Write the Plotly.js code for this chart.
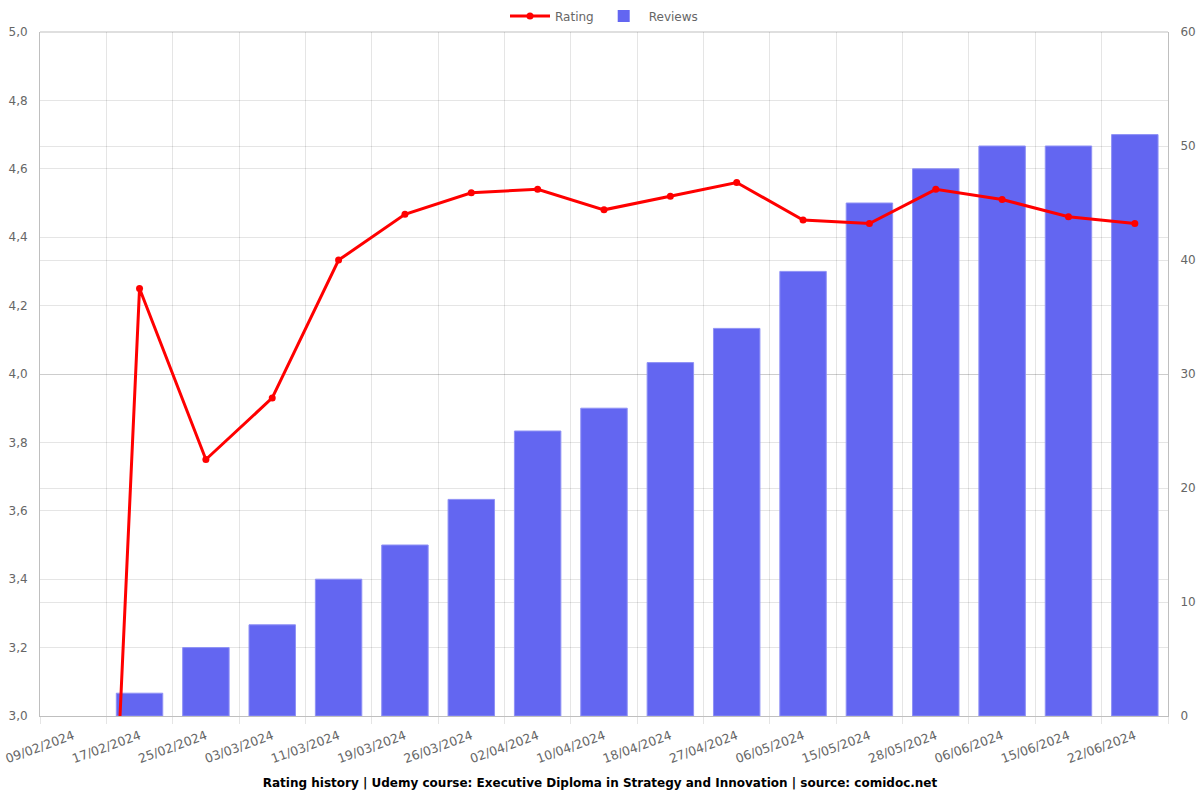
<!DOCTYPE html>
<html>
<head>
<meta charset="utf-8">
<script src="https://cdn.plot.ly/plotly-3.0.1.min.js"></script>
<style>html,body{margin:0;padding:0;background:#fff;}#chart{width:1200px;height:800px;}</style>
</head>
<body>
<div id="chart"></div>
<script>
const dates = ["09/02/2024","17/02/2024","25/02/2024","03/03/2024","11/03/2024","19/03/2024","26/03/2024","02/04/2024","10/04/2024","18/04/2024","27/04/2024","06/05/2024","15/05/2024","28/05/2024","06/06/2024","15/06/2024","22/06/2024"];
const rating = [0, 4.25, 3.75, 3.93, 4.333, 4.467, 4.53, 4.54, 4.48, 4.52, 4.56, 4.45, 4.44, 4.54, 4.51, 4.46, 4.44];
const reviews = [0, 2, 6, 8, 12, 15, 19, 25, 27, 31, 34, 39, 45, 48, 50, 50, 51];
const titleText = "Rating history | Udemy course: Executive Diploma in Strategy and Innovation | source: comidoc.net";

const font = "DejaVu Sans, sans-serif";
const grid = "rgba(0,0,0,0.1)";
const axisLine = "rgba(0,0,0,0.25)";

const traces = [
  {
    type: "scatter", mode: "lines+markers", name: "Rating",
    x: dates, y: rating, yaxis: "y2",
    line: {color: "#ff0000", width: 3},
    marker: {color: "#ff0000", size: 7},
    cliponaxis: true
  },
  {
    type: "bar", name: "Reviews",
    x: dates, y: reviews, yaxis: "y",
    width: 0.7,
    marker: {color: "#6366f1", line: {color: "#8f91f5", width: reviews.map(v => v > 0 ? 1 : 0)}}
  }
];

const layout = {
  width: 1200, height: 800,
  margin: {l: 40, r: 32, t: 32, b: 84},
  paper_bgcolor: "#fff", plot_bgcolor: "#fff",
  separators: ",.",
  font: {family: font, size: 12, color: "#666"},
  showlegend: true,
  legend: {orientation: "h", x: 0.5, xanchor: "center", yref: "container", y: 0.98, yanchor: "middle",
           itemwidth: 40,
           font: {family: font, size: 12, color: "#666"}, traceorder: "normal"},
  title: {text: "<b>" + titleText + "</b>", x: 0.5, xanchor: "center",
          yref: "container", y: 0.021, yanchor: "middle",
          font: {family: font, size: 12, color: "#000"}},
  xaxis: {
    type: "category", tickson: "boundaries", tickangle: -20,
    range: [-0.5, dates.length - 0.5], autorange: false,
    showgrid: true, gridcolor: grid, gridwidth: 1,
    showline: true, linecolor: axisLine, linewidth: 1,
    ticks: "outside", ticklen: 7, tickcolor: grid,
    ticklabelstandoff: 7,
    tickfont: {family: font, size: 12.5, color: "#666"},
    zeroline: false
  },
  yaxis: {
    range: [0, 60], dtick: 10, side: "right",
    showgrid: true, gridcolor: grid,
    showline: true, linecolor: axisLine,
    ticks: "", ticklabelstandoff: 9,
    tickfont: {family: font, size: 12, color: "#666"},
    zeroline: false
  },
  yaxis2: {
    range: [3, 5], dtick: 0.2, tickformat: ".1f", overlaying: "y", side: "left",
    showgrid: true, gridcolor: grid,
    showline: true, linecolor: axisLine,
    ticks: "", ticklabelstandoff: 9,
    tickfont: {family: font, size: 12, color: "#666"},
    zeroline: false
  },
  shapes: [
    {type: "line", xref: "paper", yref: "paper", x0: 0, x1: 1, y0: 1, y1: 1, line: {color: axisLine, width: 1}}
  ]
};

Plotly.newPlot("chart", traces, layout, {displayModeBar: false, staticPlot: true});
</script>
</body>
</html>
